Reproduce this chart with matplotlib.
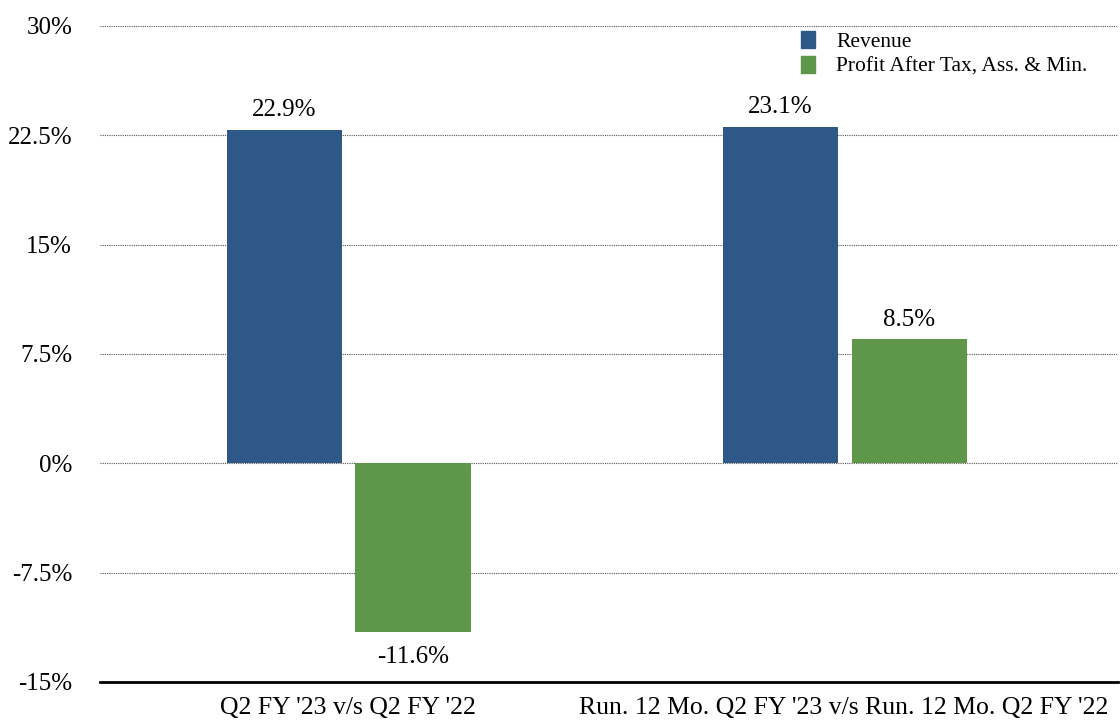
import numpy as np
import matplotlib
matplotlib.use('Agg')
import matplotlib.pyplot as plt
from matplotlib.patches import Patch

categories = ["Q2 FY '23 v/s Q2 FY '22", "Run. 12 Mo. Q2 FY '23 v/s Run. 12 Mo. Q2 FY '22"]
revenue = [22.9, 23.1]
profit = [-11.6, 8.5]
series_names = ['Revenue', 'Profit After Tax, Ass. & Min.']
yticks = [-15, -7.5, 0, 7.5, 15, 22.5, 30]
ytick_labels = ['-15%', '-7.5%', '0%', '7.5%', '15%', '22.5%', '30%']

blue = '#2e5887'
green = '#5e974a'

plt.rcParams['font.family'] = ['Liberation Serif', 'DejaVu Serif']

fig = plt.figure(figsize=(11.2, 7.22), dpi=100)
ax = fig.add_axes([100 / 1120, 40 / 722, 1018 / 1120, 656 / 722])

x = np.arange(len(categories))
w = 0.232
b1 = ax.bar(x - 0.129, revenue, w, color=blue, zorder=3)
b2 = ax.bar(x + 0.131, profit, w, color=green, zorder=3)

for bars in (b1, b2):
    for rect in bars:
        v = rect.get_height()
        cx = rect.get_x() + rect.get_width() / 2
        if v >= 0:
            ax.annotate(f'{v:.1f}%', (cx, v), xytext=(0, 6), textcoords='offset points',
                        ha='center', va='bottom', fontsize=18)
        else:
            ax.annotate(f'{v:.1f}%', (cx, v), xytext=(0, -10), textcoords='offset points',
                        ha='center', va='top', fontsize=18)

ax.set_xlim(-0.5, 1.552)
ax.set_ylim(-15, 30)
ax.set_yticks(yticks)
ax.set_yticklabels(ytick_labels, fontsize=18)
ax.set_xticks(x)
ax.set_xticklabels(categories, fontsize=18.5)
ax.tick_params(axis='both', length=0)
ax.tick_params(axis='y', pad=20)
ax.tick_params(axis='x', pad=11)

for t in yticks[1:]:
    ax.axhline(t, color='#555555', linestyle=(0, (1, 1)), linewidth=0.8, zorder=1)

for s in ['top', 'right', 'left']:
    ax.spines[s].set_visible(False)
ax.spines['bottom'].set_linewidth(2)
ax.spines['bottom'].set_color('black')

handles = [Patch(color=blue), Patch(color=green)]
ax.legend(handles, series_names, loc='upper right', bbox_to_anchor=(0.985, 1.015),
          frameon=False, fontsize=15.5, handlelength=0.65, handleheight=0.8,
          handletextpad=1.0, labelspacing=0.2, borderpad=0.2)

fig.savefig('out.png', dpi=100)
